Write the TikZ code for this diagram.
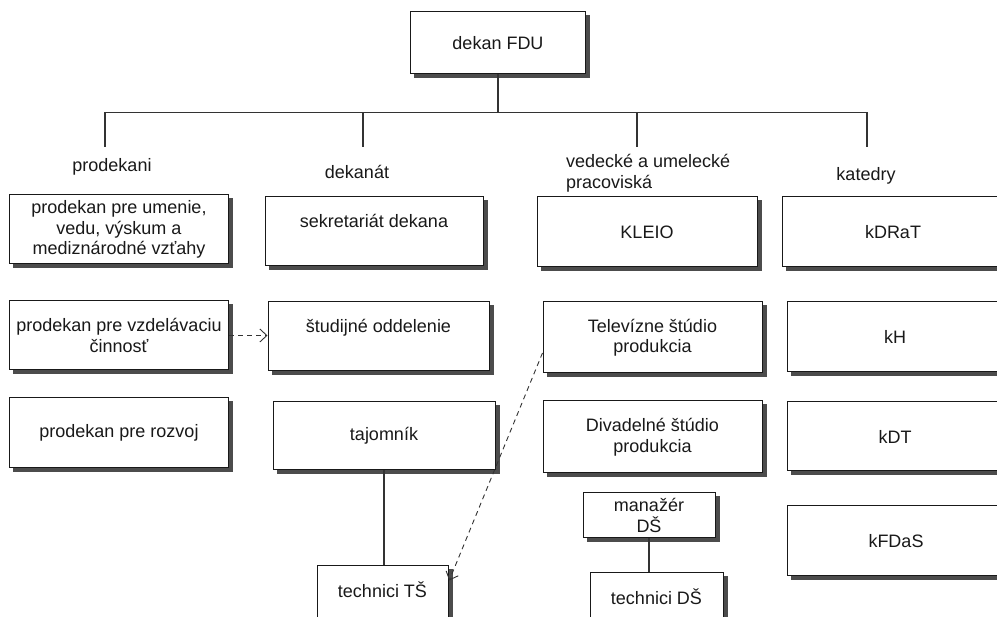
\documentclass[tikz,border=0pt]{standalone}
\usepackage{fontspec}
\setmainfont{Liberation Sans}
\usepackage{tikz}
\usetikzlibrary{positioning, arrows.meta}
\usetikzlibrary{calc}

\pgfdeclarelayer{back}
\pgfsetlayers{back,main}

\tikzset{
    box/.style={draw=black!90, line width=1pt, fill=white, text=black!90,
        minimum width=219pt, minimum height=70pt, inner sep=2pt, align=center,
        font=\fontsize{18pt}{20.5pt}\selectfont},
    boxshadow/.style={fill=black!70},
    head/.style={text=black!90, inner sep=0pt, font=\fontsize{18pt}{20.5pt}\selectfont},
    link/.style={draw=black!80, line width=1.1pt},
    dashlink/.style={draw=black!80, line width=0.9pt, dash pattern=on 5pt off 4pt,
        -{Straight Barb[length=7pt, width=13pt]}}
}

\begin{document}
\begin{tikzpicture}[node distance=100pt, on grid]
    \useasboundingbox (0pt,0pt) rectangle (997pt,-617pt);

    \node[box, minimum width=175pt, minimum height=62pt] (dekan) at (498pt,-43pt) {dekan FDU};

    % headings
    \node[head] (hpro) at (112pt,-167pt) {prodekani};
    \node[head] (hdek) at (357pt,-172pt) {dekanát};
    \node[head, anchor=west, align=left] (hved) at (566pt,-173pt) {vedecké a umelecké\\pracoviská};
    \node[head] (hkat) at (866pt,-176pt) {katedry};

    % prodekani
    \node[box, minimum height=69pt] (pr1) at (119pt,-229.5pt) {prodekan pre umenie,\\vedu, výskum a\\mediznárodné vzťahy};
    \node[box, minimum height=69pt] (pr2) [below=106pt of pr1] {prodekan pre vzdelávaciu\\činnosť};
    \node[box] (pr3) [below=97.5pt of pr2] {prodekan pre rozvoj};

    % dekanat
    \node[box, minimum width=218pt, minimum height=69pt] (sek) at (374pt,-231.5pt) {sekretariát dekana\\\mbox{}};
    \node[box, minimum width=221pt, minimum height=69pt] (stud) [below=105pt of sek, xshift=4.5pt] {študijné oddelenie\\\mbox{}};
    \node[box, minimum width=222pt, minimum height=68pt] (taj) [below=99.5pt of stud, xshift=5.5pt] {tajomník};
    \node[box, minimum width=131pt, minimum height=68pt] (tts) [below=164pt of taj, xshift=-1.5pt] {technici TŠ\\\mbox{}};

    % pracoviska
    \node[box, minimum width=220pt] (kleio) at (647pt,-232pt) {KLEIO};
    \node[box, minimum height=71pt] (tv) [below=105.5pt of kleio, xshift=5.5pt] {Televízne štúdio\\produkcia};
    \node[box, minimum height=72pt] (div) [below=99.5pt of tv] {Divadelné štúdio\\produkcia};
    \node[box, minimum width=132pt, minimum height=45pt] (man) [below=78.5pt of div, xshift=-3.5pt] {manažér\\DŠ};
    \node[box, minimum width=133pt, minimum height=68pt] (tds) [below=91.5pt of man, xshift=7.5pt] {technici DŠ\\\mbox{}};

    % katedry
    \node[box, minimum width=222pt] (kdrat) at (893pt,-232pt) {kDRaT};
    \node[box, minimum width=216pt] (kh) [below=105pt of kdrat, xshift=2pt] {kH};
    \node[box, minimum width=216pt, minimum height=69pt] (kdt) [below=99.5pt of kh] {kDT};
    \node[box, minimum width=218pt] (kfdas) [below=104.5pt of kdt, xshift=1pt] {kFDaS};

    % shadows behind the boxes
    \begin{pgfonlayer}{back}
        \fill[white] (0pt,0pt) rectangle (997pt,-617pt);
        \foreach \n in {dekan,pr1,pr2,pr3,sek,stud,taj,tts,kleio,tv,div,man,tds,kdrat,kh,kdt,kfdas}
            \fill[boxshadow] ($(\n.south west)+(4pt,-4pt)$) rectangle ($(\n.north east)+(4pt,-4pt)$);
    \end{pgfonlayer}

    % tree
    \coordinate (c1) at (105pt,-147pt);
    \coordinate (c2) at (363pt,-147pt);
    \coordinate (c3) at (637pt,-147pt);
    \coordinate (c4) at (867pt,-147pt);
    \draw[link] (dekan.south) -- ++(0,-38pt) coordinate (bus);
    \draw[link] (c1) |- (bus) -| (c4);
    \draw[link] (c2) -- (c2 |- bus);
    \draw[link] (c3) -- (c3 |- bus);

    \draw[link] (taj.south) -- (taj.south |- tts.north);
    \draw[link] (man.south) -- (man.south |- tds.north);

    \draw[dashlink] (pr2.east) -- (pr2.east -| stud.west);
    \draw[dashlink, shorten >=2pt] (tv.188) -- (tts.15);
\end{tikzpicture}
\end{document}
